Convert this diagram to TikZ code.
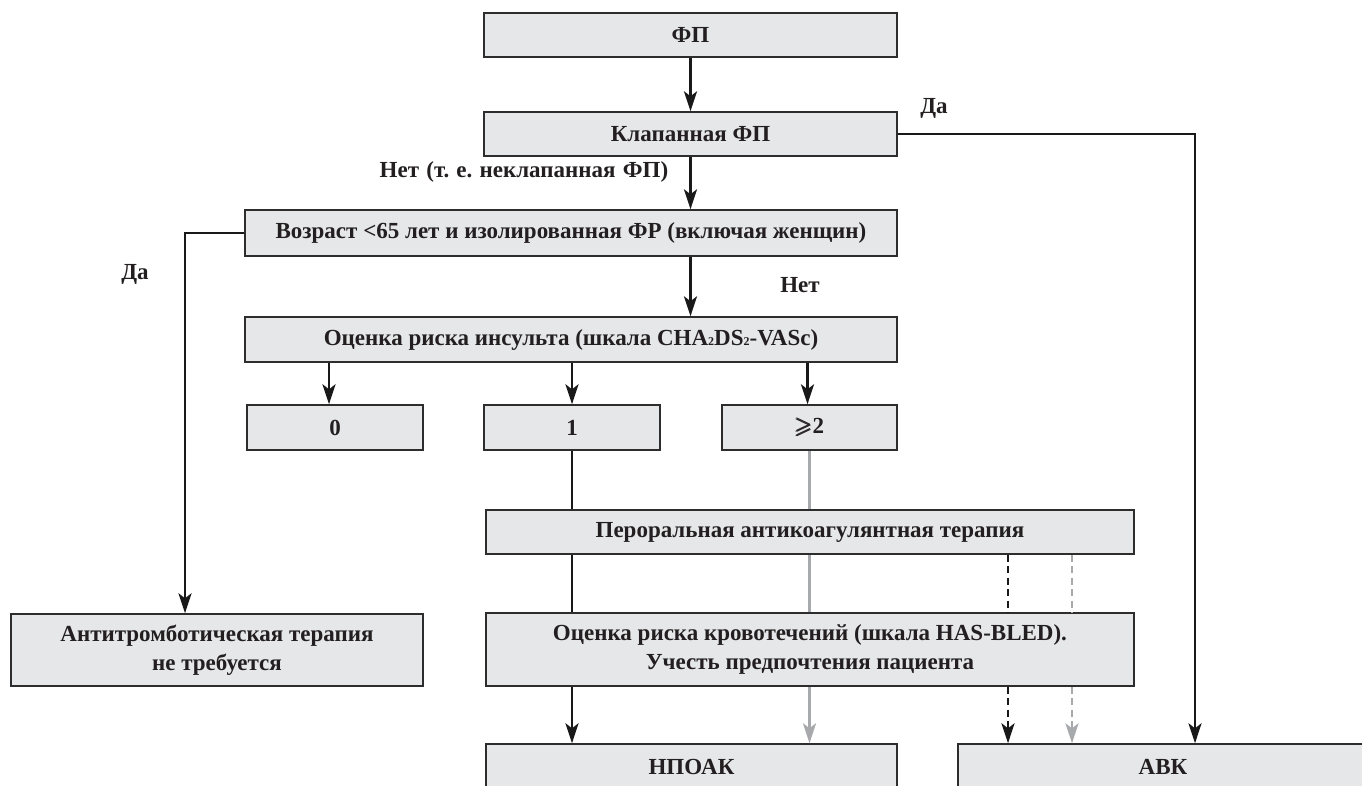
\documentclass[tikz,border=0pt]{standalone}
\usepackage{amsmath}
\usepackage{amssymb}
\usepackage{fontspec}
\setmainfont{Liberation Serif}
\usetikzlibrary{arrows.meta,calc}
\definecolor{boxfill}{RGB}{230,231,232}
\definecolor{boxdraw}{RGB}{45,45,45}
\definecolor{lgrey}{RGB}{167,169,172}
\definecolor{txt}{RGB}{35,31,32}
\begin{document}
\begin{tikzpicture}[x=1pt,y=-1pt,
  box/.style={draw=boxdraw, line width=1.4pt, fill=boxfill, inner sep=0pt, text=txt,
    font=\fontsize{23}{29}\selectfont\bfseries, align=center},
  lab/.style={inner sep=0pt, text=txt, font=\fontsize{23}{29}\selectfont\bfseries},
  ln/.style={line width=2.5pt, draw=black!90},
  arr/.style={ln, -{Stealth[length=20pt,width=13pt,inset=5pt]}},
  gln/.style={line width=2.2pt, draw=lgrey},
  garr/.style={gln, color=lgrey, -{Stealth[length=20pt,width=13pt,inset=5pt]}},
  dln/.style={ln, dash pattern=on 7pt off 4.5pt},
  darr/.style={arr, dash pattern=on 7pt off 4.5pt},
  gdln/.style={gln, dash pattern=on 7pt off 4.5pt},
  gdarr/.style={garr, dash pattern=on 7pt off 4.5pt}]
\useasboundingbox (0,0) rectangle (1362,785);
\clip (0,0) rectangle (1362,785);
\fill[white] (0,0) rectangle (1362,785);

% boxes
\node[box, minimum width=413pt, minimum height=44pt] (fp) at (690.5,35) {ФП};
\node[box, minimum width=413pt, minimum height=44pt] (klap) at (690.5,134) {Клапанная ФП};
\node[box, minimum width=652pt, minimum height=46pt] (age) at (571,233) {Возраст <65 лет и изолированная ФР (включая женщин)};
\node[box, minimum width=652pt, minimum height=45pt] (stroke) at (571,339.5) {Оценка риска инсульта (шкала CHA{\fontsize{12}{12}\selectfont 2}DS{\fontsize{12}{12}\selectfont 2}-VASc)};
\node[box, minimum width=176pt, minimum height=45pt] (b0) at (335,427.5) {0};
\node[box, minimum width=176pt, minimum height=45pt] (b1) at (572,427.5) {1};
\node[box, minimum width=175pt, minimum height=45pt] (b2) at (809.5,427.5) {$\pmb{\geqslant}$2};
\node[box, minimum width=648pt, minimum height=44pt] (oac) at (810,532) {Пероральная антикоагулянтная терапия};
\node[box, minimum width=648pt, minimum height=73pt] (bleed) at (810,649.5) {Оценка риска кровотечений (шкала HAS-BLED).\\Учесть предпочтения пациента};
\node[box, minimum width=412pt, minimum height=72pt] (anti) at (217,650) {Антитромботическая терапия\\не требуется};
\node[box, minimum width=411pt, minimum height=46pt] (noac) at (691.5,767) {НПОАК};
\node[box, minimum width=410pt, minimum height=46pt] (avk) at (1163,767) {АВК};

% labels
\node[lab] (l1) at (934,108) {Да};
\node[lab] (l2) at (524,172) {Нет\hspace{0.32em}(т.\hspace{0.3em}е.\hspace{0.32em}неклапанная\hspace{0.32em}ФП)};
\node[lab] (l3) at (135,274) {Да};
\node[lab] (l4) at (800,285) {Нет};

% coordinates
\coordinate (cR) at (1195,134);
\coordinate (cL) at (185,233);

% main column
\draw[arr] (fp.south) -- (klap.north);
\draw[arr] (klap.south) -- (klap.south |- age.north);
\draw[arr] (klap.south |- age.south) -- (klap.south |- stroke.north);
\draw[arr] ([xshift=-6pt]b0.north |- stroke.south) -- ([xshift=-6pt]b0.north);
\draw[arr] (b1.north |- stroke.south) -- (b1.north);
\draw[arr] ([xshift=-2pt]b2.north |- stroke.south) -- ([xshift=-2pt]b2.north);

% Valvular -> AVK
\draw[arr] (klap.east) -- (cR) -- (cR |- avk.north);
% Age yes -> no therapy
\draw[arr] (age.west) -- (cL) -- (cL |- anti.north);

% 1 path (black)
\draw[ln] (b1.south) -- (b1.south |- oac.north);
\draw[ln] (b1.south |- oac.south) -- (b1.south |- bleed.north);
\draw[arr] (b1.south |- bleed.south) -- (b1.south |- noac.north);

% >=2 path (grey)
\draw[gln] (b2.south) -- (b2.south |- oac.north);
\draw[gln] (b2.south |- oac.south) -- (b2.south |- bleed.north);
\draw[garr] (b2.south |- bleed.south) -- (b2.south |- noac.north);

% dashed to AVK
\coordinate (dk) at (1008,0);
\coordinate (dg) at (1072,0);
\draw[dln] (dk |- oac.south) -- (dk |- bleed.north);
\draw[darr] (dk |- bleed.south) -- (dk |- avk.north);
\draw[gdln] (dg |- oac.south) -- (dg |- bleed.north);
\draw[gdarr] (dg |- bleed.south) -- (dg |- avk.north);
\end{tikzpicture}
\end{document}
